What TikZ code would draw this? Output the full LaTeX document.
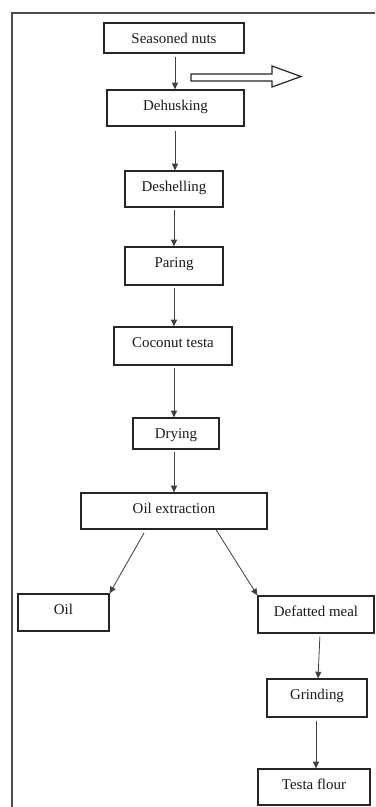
\documentclass[tikz,border=0pt]{standalone}
\usepackage{fontspec}
\setmainfont{Liberation Serif}
\usetikzlibrary{arrows.meta}
\begin{document}
\begin{tikzpicture}[x=0.75pt,y=-0.75pt,
  box/.style={draw=black!85, line width=0.9pt, inner sep=0pt, align=center,
    minimum height=0.75pt*#1,
    text height=12pt, text depth={12pt+0.75pt*(#1-40)},
    font=\fontsize{11.2}{13}\selectfont, text=black!90},
  arr/.style={draw=black!75, line width=0.6pt, -{Triangle[length=5pt,width=4.5pt]}},
]
\useasboundingbox (0,0) rectangle (375,807);
\fill[white] (0,0) rectangle (375,807);
% frame
\draw[black!70, line width=1.1pt] (12,807) -- (12,13) -- (375,13);
% boxes
\node[box=30, minimum width=0.75pt*140] (seas) at (174,38) {Seasoned nuts};
\node[box=36, minimum width=0.75pt*137] (dehusk) at (175.5,108) {Dehusking};
\node[box=36, minimum width=0.75pt*98] (deshell) at (174,189) {Deshelling};
\node[box=38, minimum width=0.75pt*98] (paring) at (174,266) {Paring};
\node[box=38, minimum width=0.75pt*118] (coconut) at (173,346) {Coconut testa};
\node[box=31, minimum width=0.75pt*86] (drying) at (176,433.5) {Drying};
\node[box=36, minimum width=0.75pt*186] (oilext) at (174,511) {Oil extraction};
\node[box=37, minimum width=0.75pt*91] (oil) at (63.5,612.5) {Oil};
\node[box=37, minimum width=0.75pt*116] (defat) at (316,614.5) {Defatted meal};
\node[box=38, minimum width=0.75pt*100] (grind) at (317,698) {Grinding};
\node[box=36, minimum width=0.75pt*112] (testa) at (314,787) {Testa flour};
% hollow arrow
\coordinate (ha) at (191,74);
\draw[black!85, line width=0.9pt, line join=miter]
  (ha) -- (272,74) -- (272,66) -- (301,76.5) -- (272,87) -- (272,81) -- (191,81) -- cycle;
% connectors
\draw[arr, shorten <=2.2pt] (seas.south -| 175,0) -- (dehusk.north -| 175,0);
\draw[arr, shorten <=3pt] (dehusk.south -| 175,0) -- (deshell.north -| 175,0);
\draw[arr, shorten <=2pt] (deshell.south) -- (paring.north);
\draw[arr, shorten <=2pt] (paring.south) -- (coconut.north -| paring.south);
\draw[arr, shorten <=2pt] (coconut.south -| paring.south) -- (drying.north -| paring.south);
\draw[arr, shorten <=2pt] (drying.south -| paring.south) -- (oilext.north -| paring.south);
\draw[arr, shorten <=3pt] (oilext.south -| 146,0) -- (oil.north east);
\draw[arr] (oilext.south -| 216,0) -- (defat.north west);
\draw[arr, shorten <=2.2pt] (defat.south -| 320,0) -- (grind.north -| 318,0);
\draw[arr, shorten <=2.2pt] (grind.south -| 316,0) -- (testa.north -| 316,0);
\end{tikzpicture}
\end{document}
